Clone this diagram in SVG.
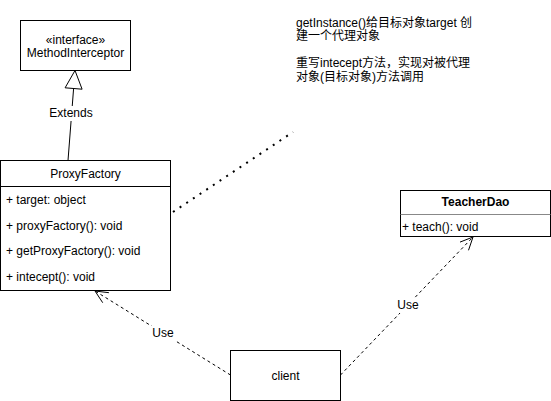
<svg xmlns="http://www.w3.org/2000/svg" width="551" height="401" viewBox="0 0 551 401">
<style>
text{font-family:"Liberation Sans",Arial,"Noto Sans CJK SC",sans-serif;font-size:12px;fill:#000}
.box{fill:#fff;stroke:#000;stroke-width:1}
.c{text-anchor:middle;dominant-baseline:central}
.l{dominant-baseline:central}
.dash{fill:none;stroke:#000;stroke-width:1;stroke-dasharray:3 3}
.solid{fill:none;stroke:#000;stroke-width:1}
.lbl{fill:#fff;stroke:none}
</style>
<rect width="551" height="401" fill="#fff"/>
<g id="connectors">
  <path class="solid" d="M68 160.5 L73.6 88.5"/>
  <path d="M75 70.5 L82.1 89.2 L65.1 87.8 Z" fill="#fff" stroke="#000"/>
  <rect class="lbl" x="48" y="106" width="46" height="15"/>
  <text class="c" x="71" y="113">Extends</text>
  <path class="dash" d="M230.5 375 L95 291"/>
  <path class="solid" d="M108.9 292.7 L95 291 L102.7 302.7"/>
  <rect class="lbl" x="151" y="326" width="24" height="15"/>
  <text class="c" x="163" y="333">Use</text>
  <path class="dash" d="M340.5 375 L473 237"/>
  <path class="solid" d="M460 242.1 L473 237 L468.5 250.3"/>
  <rect class="lbl" x="396" y="298" width="24" height="15"/>
  <text class="c" x="408" y="305">Use</text>
  <path d="M173 212 L293 132" fill="none" stroke="#000" stroke-width="2" stroke-dasharray="2 6"/>
</g>
<g id="MethodInterceptor">
  <rect class="box" x="20.5" y="20.5" width="110" height="50"/>
  <text class="c" x="75.5" y="39.5">«interface»</text>
  <text class="c" x="75.5" y="53">MethodInterceptor</text>
</g>
<g id="ProxyFactory">
  <rect class="box" x="0.5" y="160.5" width="170" height="130"/>
  <line x1="0.5" y1="186.5" x2="170.5" y2="186.5" stroke="#000"/>
  <text class="c" x="85.5" y="173.5">ProxyFactory</text>
  <text class="l" x="6" y="200">+ target: object</text>
  <text class="l" x="6" y="225.5">+ proxyFactory(): void</text>
  <text class="l" x="6" y="250.5">+ getProxyFactory(): void</text>
  <text class="l" x="6" y="276.5">+ intecept(): void</text>
</g>
<g id="TeacherDao">
  <rect class="box" x="400.5" y="190.5" width="150" height="46"/>
  <line x1="400.5" y1="214.5" x2="550.5" y2="214.5" stroke="#888"/>
  <text class="c" x="475.5" y="201.5" font-weight="bold">TeacherDao</text>
  <text class="l" x="402" y="227">+ teach(): void</text>
</g>
<g id="client">
  <rect class="box" x="230.5" y="350.5" width="110" height="50"/>
  <text class="c" x="285.5" y="375.5">client</text>
</g>
<g id="note">
  <text class="l" x="296" y="22.5">getInstance()给目标对象target 创</text>
  <text class="l" x="296" y="36">建一个代理对象</text>
  <text class="l" x="296" y="63">重写intecept方法，实现对被代理</text>
  <text class="l" x="296" y="76.5">对象(目标对象)方法调用</text>
</g>
</svg>
